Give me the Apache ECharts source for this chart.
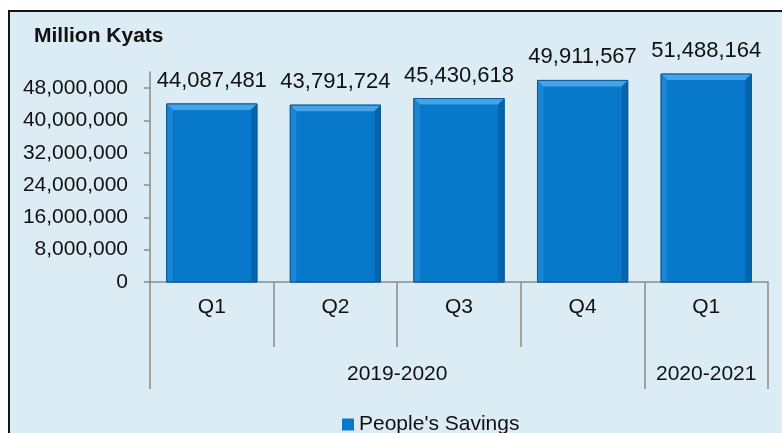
<!DOCTYPE html>
<html>
<head>
<meta charset="utf-8">
<script src="https://cdn.jsdelivr.net/npm/echarts@6/dist/echarts.min.js"></script>
<style>
html,body{margin:0;padding:0;background:#fff;}
#c{width:782px;height:433px;}
</style>
</head>
<body>
<div id="c"></div>
<script>
var quarters = ["Q1", "Q2", "Q3", "Q4", "Q1"];
var categoryKeys = ["2019-2020 Q1", "2019-2020 Q2", "2019-2020 Q3", "2019-2020 Q4", "2020-2021 Q1"];
var years = ["2019-2020", "2020-2021"];
var yearSpans = [4, 1];
var savings = [44087481, 43791724, 45430618, 49911567, 51488164];
var seriesName = "People's Savings";
var unitLabel = "Million Kyats";

var FONT = "'Liberation Sans', Arial, sans-serif";
var TXT = '#111';
var AX = '#8a8a8a';

// year group boundaries & centres (in category units)
var yearTicks = [0], yearCenters = [];
(function(){ var acc = 0; for (var i = 0; i < yearSpans.length; i++) { yearCenters.push(acc + yearSpans[i] / 2); acc += yearSpans[i]; yearTicks.push(acc); } })();

function fmt(v){ return v.toLocaleString('en-US'); }

var chart = echarts.init(document.getElementById('c'), null, {renderer: 'canvas'});
chart.setOption({
  backgroundColor: '#ffffff',
  animation: false,
  graphic: [{
    type: 'rect', z: -100, silent: true,
    shape: {x: 9, y: 11, width: 800, height: 440},
    style: {fill: '#dbecf4', stroke: '#151515', lineWidth: 2}
  }],
  title: {
    text: unitLabel, left: 29, top: 21,
    textStyle: {fontFamily: FONT, fontSize: 21, fontWeight: 'bold', color: TXT}
  },
  legend: {
    left: 337, top: 409, icon: 'rect', itemWidth: 12, itemHeight: 12, itemGap: 10,
    textStyle: {fontFamily: FONT, fontSize: 21, color: TXT},
    data: [seriesName]
  },
  grid: {left: 150, right: 14, top: 72, bottom: 151, containLabel: false},
  xAxis: [{
    type: 'category', data: categoryKeys, boundaryGap: true,
    axisLine: {show: true, lineStyle: {color: AX, width: 1.5}},
    axisTick: {show: true, interval: 0, length: 65, lineStyle: {color: AX, width: 1.5}},
    axisLabel: {interval: 0, margin: 15, fontFamily: FONT, fontSize: 21, color: TXT,
      formatter: function(v, i){ return quarters[i]; }},
    splitLine: {show: false}
  }, {
    type: 'value', min: 0, max: yearTicks[yearTicks.length - 1], position: 'bottom',
    axisLine: {show: false},
    axisTick: {show: true, length: 107, customValues: yearTicks, lineStyle: {color: AX, width: 1.5}},
    axisLabel: {margin: 82, customValues: yearCenters, fontFamily: FONT, fontSize: 21, color: TXT,
      formatter: function(v){ var k = yearCenters.indexOf(v); return k >= 0 ? years[k] : ''; }},
    splitLine: {show: false}
  }],
  yAxis: {
    type: 'value', min: 0, max: 52000000, interval: 8000000,
    axisLine: {show: true, lineStyle: {color: AX, width: 1.5}},
    axisTick: {show: true, length: 6, lineStyle: {color: AX, width: 1.5}},
    axisLabel: {margin: 22, showMaxLabel: false, fontFamily: FONT, fontSize: 21, color: TXT,
      formatter: function(v){ return fmt(v); }},
    splitLine: {show: false}
  },
  series: [{
    name: seriesName, type: 'custom', xAxisIndex: 0, yAxisIndex: 0,
    itemStyle: {color: '#0a78c8'},
    encode: {x: 0, y: 1},
    data: savings.map(function(v, i){ return [i, v]; }),
    renderItem: function(params, api){
      var idx = api.value(0), val = api.value(1);
      var top = api.coord([idx, val]);
      var bot = api.coord([idx, 0]);
      var band = api.size([1, 0])[0];
      var w = band * 0.73;
      var x = top[0] - w / 2, y = top[1], h = bot[1] - top[1];
      var b = 6;
      return {
        type: 'group',
        children: [
          {type: 'rect', shape: {x: x, y: y, width: w, height: h}, style: {fill: '#0878cb', stroke: '#0b5c9c', lineWidth: 1}},
          {type: 'polygon', shape: {points: [[x, y], [x + w, y], [x + w - b, y + b], [x + b, y + b]]}, style: {fill: '#45a3e8'}},
          {type: 'polygon', shape: {points: [[x, y], [x + b, y + b], [x + b, y + h], [x, y + h]]}, style: {fill: '#1c86d4'}},
          {type: 'polygon', shape: {points: [[x + w, y], [x + w - b, y + b], [x + w - b, y + h], [x + w, y + h]]}, style: {fill: '#0664ad'}},
          {type: 'rect', shape: {x: x, y: y, width: w, height: h}, style: {fill: 'none', stroke: '#0a5a98', lineWidth: 1}},
          {type: 'text', x: top[0], y: y - 23, style: {text: fmt(val), align: 'center', verticalAlign: 'middle',
            fontFamily: FONT, fontSize: 22, fill: TXT}}
        ]
      };
    }
  }]
});
</script>
</body>
</html>
